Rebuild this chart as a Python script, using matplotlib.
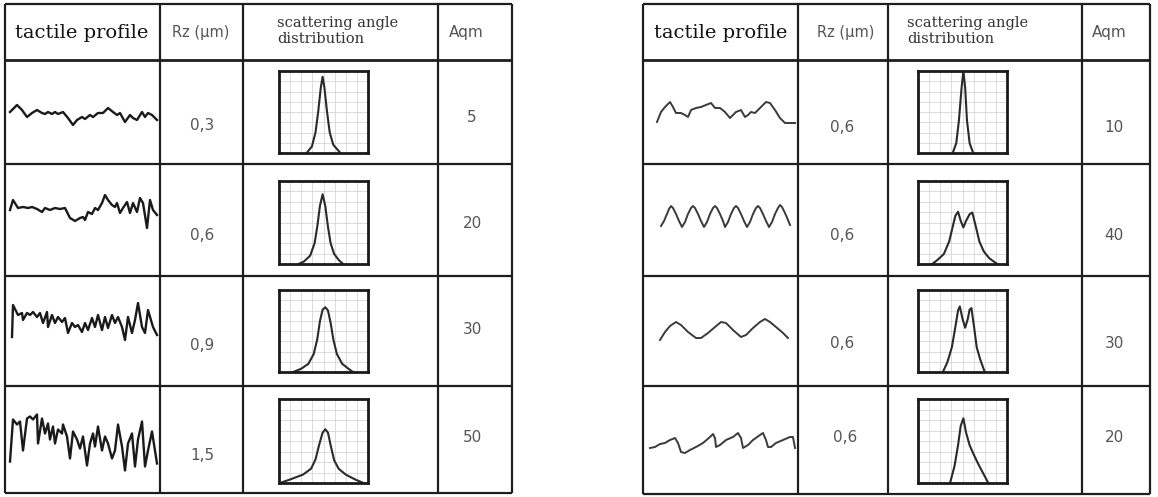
import matplotlib
matplotlib.use("Agg")
import matplotlib.pyplot as plt
import numpy as np

W, H = 1158, 497

# ---------------- data ----------------
headers = ["tactile profile", "Rz (μm)", "scattering angle\ndistribution", "Aqm"]

rz_left = ["0,3", "0,6", "0,9", "1,5"]
aqm_left = ["5", "20", "30", "50"]
rz_right = ["0,6", "0,6", "0,6", "0,6"]
aqm_right = ["10", "40", "30", "20"]

# tactile profiles: horizontal position (px from cell left) and height (px, up positive, vs. row middle)
L1_x = [5,12,17,22,27,32,37,40,43,47,50,53,58,63,68,72,77,80,85,88,93,98,103,108,112,115,120,125,128,132,137,140,143,147,152]
L1_z = [0,7,2,-5,-1,2,-1,-2,0,-2,0,-2,0,-6,-13,-8,-5,-7,-3,-5,-1,-1,4,0,-3,-1,-10,-3,-6,-8,0,-5,-1,-3,-8]

L2_x = [5,8,13,18,23,27,32,37,40,45,50,55,60,65,70,75,78,80,83,87,90,93,97,100,103,107,110,112,115,118,122,125,128,132,135,138,142,145,148,152]
L2_z = [10,20,12,13,12,13,11,8,12,10,12,11,12,2,-1,2,3,0,8,6,12,10,17,25,20,15,13,17,7,12,18,7,17,8,22,17,-8,20,10,5]

L3_x = [7,8,13,17,18,22,25,28,32,35,38,42,43,47,50,53,57,60,63,67,70,73,77,80,83,87,90,93,97,100,103,107,110,113,117,120,123,127,130,133,137,140,143,148,152]
L3_z = [-6,26,16,18,11,18,16,19,14,18,8,19,4,16,8,14,9,13,-2,8,4,6,-1,8,1,13,4,16,1,14,3,16,8,14,4,-9,14,-2,11,28,4,-2,21,4,-4]

L4_x = [5,8,12,15,18,22,25,28,32,33,37,40,43,45,48,50,53,57,58,62,65,68,72,75,78,82,85,88,90,93,97,100,103,107,110,113,117,120,123,127,130,133,137,140,143,147,152]
L4_z = [-22,20,15,18,-11,21,23,20,25,-4,21,6,16,0,13,-4,10,6,15,3,-19,8,0,-9,3,-26,-4,6,-7,13,-11,3,-4,-19,-11,15,-7,-31,-4,6,-27,0,18,-27,-11,8,-24]

R1_x = [14,18,22,27,30,33,38,42,45,48,53,58,63,68,72,77,82,87,90,93,98,102,105,108,112,115,120,123,127,132,137,142,147,152]
R1_z = [-10,0,5,10,5,-1,-1,-3,-5,2,4,5,7,9,4,4,0,-6,-3,0,2,-5,-3,0,-1,2,7,10,9,2,-6,-11,-11,-11]

R2_x = [18,21,24,26,28,30,33,36,39,42,45,48,50,52,55,58,61,64,67,70,72,74,77,80,82,85,88,91,93,95,98,101,104,107,110,113,115,117,120,123,126,129,132,135,137,139,142,145,147]
R2_z = [-6,-1,6,11,14,12,6,-1,-7,-2,6,12,14,12,6,-1,-7,-2,6,12,14,12,6,-1,-7,-2,6,12,14,12,6,-1,-7,-2,6,12,14,12,6,-1,-7,-2,6,12,15,13,7,0,-5]

R3_x = [17,22,27,33,38,45,53,58,65,72,78,83,90,98,103,110,117,122,127,133,140,145]
R3_z = [-9,-1,5,9,6,-1,-7,-7,-2,4,9,8,1,-6,-4,3,9,12,9,4,-2,-7]

R4_x = [7,12,17,22,27,32,35,38,42,47,53,60,67,70,72,73,77,83,90,95,98,100,105,110,117,120,123,125,128,133,140,147,150,152]
R4_z = [-8,-7,-4,-3,0,2,-3,-12,-13,-10,-7,-3,3,6,2,-7,-5,0,3,7,2,-8,-5,0,5,7,0,-7,-7,-3,0,3,3,-8]

# scattering angle distributions: angle (0..1 across panel) and intensity (0..1)
S_L1_u = [0.31,0.37,0.41,0.44,0.47,0.49,0.51,0.54,0.57,0.61,0.69]
S_L1_v = [0.0,0.08,0.25,0.5,0.8,0.93,0.8,0.5,0.25,0.1,0.0]
S_L2_u = [0.22,0.28,0.35,0.40,0.43,0.46,0.49,0.52,0.55,0.58,0.62,0.67,0.72]
S_L2_v = [0.0,0.03,0.1,0.25,0.45,0.7,0.84,0.7,0.45,0.25,0.12,0.05,0.0]
S_L3_u = [0.16,0.25,0.33,0.39,0.43,0.46,0.49,0.52,0.55,0.58,0.61,0.65,0.71,0.78,0.83]
S_L3_v = [0.0,0.04,0.1,0.22,0.4,0.62,0.76,0.79,0.75,0.6,0.4,0.22,0.1,0.04,0.0]
S_L4_u = [0.01,0.12,0.27,0.36,0.41,0.45,0.49,0.52,0.55,0.58,0.62,0.67,0.75,0.86,0.95]
S_L4_v = [0.0,0.04,0.1,0.17,0.28,0.45,0.6,0.64,0.6,0.45,0.27,0.17,0.1,0.04,0.0]

S_R1_u = [0.39,0.43,0.46,0.49,0.51,0.53,0.55,0.58,0.62]
S_R1_v = [0.0,0.12,0.4,0.8,1.0,0.8,0.4,0.12,0.0]
S_R2_u = [0.16,0.22,0.29,0.35,0.39,0.42,0.45,0.48,0.51,0.54,0.58,0.61,0.65,0.69,0.74,0.80,0.89]
S_R2_v = [0.0,0.05,0.12,0.27,0.45,0.58,0.63,0.52,0.44,0.52,0.6,0.62,0.45,0.27,0.15,0.07,0.0]
S_R3_u = [0.28,0.33,0.38,0.42,0.45,0.47,0.50,0.53,0.56,0.58,0.60,0.63,0.66,0.70,0.75]
S_R3_v = [0.0,0.12,0.3,0.55,0.75,0.8,0.65,0.54,0.65,0.76,0.78,0.55,0.3,0.15,0.0]
S_R4_u = [0.36,0.41,0.45,0.48,0.51,0.54,0.58,0.63,0.68,0.73,0.79]
S_R4_v = [0.0,0.2,0.45,0.68,0.77,0.6,0.45,0.33,0.22,0.12,0.0]

# ---------------- layout ----------------
tables = [
    dict(cols=[5, 160, 243, 438, 512], rows=[4, 60, 164, 276, 386, 493],
         box_x=(279, 368), rz=rz_left, aqm=aqm_left,
         profiles=[(L1_x, L1_z), (L2_x, L2_z), (L3_x, L3_z), (L4_x, L4_z)],
         scat=[(S_L1_u, S_L1_v), (S_L2_u, S_L2_v), (S_L3_u, S_L3_v), (S_L4_u, S_L4_v)],
         rz_pos=[(202, 125), (202, 235), (202, 345), (202, 455)],
         aqm_pos=[(472, 117), (472, 223), (472, 330), (472, 438)],
         head_pos=[(82, 33), (201, 32), (277, 31), (466, 33)],
         plw=1.7, pcol="#1a1a1a"),
    dict(cols=[643, 798, 888, 1082, 1150], rows=[4, 60, 164, 276, 386, 494],
         box_x=(918, 1007), rz=rz_right, aqm=aqm_right,
         profiles=[(R1_x, R1_z), (R2_x, R2_z), (R3_x, R3_z), (R4_x, R4_z)],
         scat=[(S_R1_u, S_R1_v), (S_R2_u, S_R2_v), (S_R3_u, S_R3_v), (S_R4_u, S_R4_v)],
         rz_pos=[(842, 127), (842, 236), (842, 344), (845, 437)],
         aqm_pos=[(1114, 128), (1114, 236), (1114, 344), (1114, 437)],
         head_pos=[(721, 33), (846, 32), (907, 31), (1109, 33)],
         plw=1.4, pcol="#3a3a3a"),
]
box_y = [(71, 153), (181, 264), (290, 372), (399, 483)]

fig = plt.figure(figsize=(W / 100, H / 100), dpi=100)
fig.patch.set_facecolor("white")
ax = fig.add_axes([0, 0, 1, 1])
ax.set_xlim(0, W)
ax.set_ylim(H, 0)
ax.axis("off")

line_col = "#1e1e1e"
for t in tables:
    cols, rows = t["cols"], t["rows"]
    for x in cols:
        ax.plot([x, x], [rows[0], rows[-1]], color=line_col, lw=1.6, solid_capstyle="butt")
    for i, y in enumerate(rows):
        ax.plot([cols[0], cols[-1]], [y, y], color=line_col, lw=2.0 if i == 1 else 1.6,
                solid_capstyle="butt")

    # headers
    hp = t["head_pos"]
    ax.text(hp[0][0], hp[0][1], headers[0], ha="center", va="center",
            family="DejaVu Serif", fontsize=14, color="#111111")
    ax.text(hp[1][0], hp[1][1], headers[1], ha="center", va="center",
            family="DejaVu Sans", fontsize=10.5, color="#555555")
    ax.text(hp[2][0], hp[2][1], headers[2], ha="left", va="center",
            family="DejaVu Serif", fontsize=10.5, color="#333333", linespacing=1.15)
    ax.text(hp[3][0], hp[3][1], headers[3], ha="center", va="center",
            family="DejaVu Sans", fontsize=11, color="#555555")

    for r in range(4):
        top, bot = rows[r + 1], rows[r + 2]
        mid = (top + bot) / 2
        px, pz = t["profiles"][r]
        ax.plot([cols[0] + v for v in px], [mid - v for v in pz],
                color=t["pcol"], lw=t["plw"], solid_joinstyle="round")
        ax.text(*t["rz_pos"][r], t["rz"][r], ha="center", va="center",
                family="DejaVu Sans", fontsize=11, color="#555555")
        ax.text(*t["aqm_pos"][r], t["aqm"][r], ha="center", va="center",
                family="DejaVu Sans", fontsize=11, color="#555555")

        # scattering angle distribution panel
        x0, x1 = t["box_x"]
        y0, y1 = box_y[r]
        sax = fig.add_axes([x0 / W, 1 - y1 / H, (x1 - x0) / W, (y1 - y0) / H])
        sax.set_xlim(0, 1)
        sax.set_ylim(0, 1)
        sax.set_xticks(np.linspace(0, 1, 9))
        sax.set_yticks(np.linspace(0, 1, 9))
        sax.tick_params(length=0, labelbottom=False, labelleft=False)
        sax.grid(True, color="#d6d6d6", lw=0.6)
        for s in sax.spines.values():
            s.set_linewidth(2.0)
            s.set_color("#1a1a1a")
        u, v = t["scat"][r]
        sax.plot(u, v, color="#2a2a2a", lw=1.5, solid_joinstyle="round")

fig.savefig("out.png", dpi=100, facecolor="white")
